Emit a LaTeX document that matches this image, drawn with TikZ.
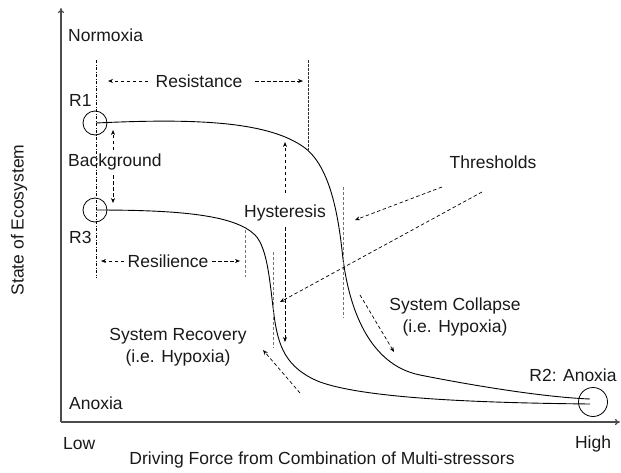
\documentclass[tikz,border=0pt]{standalone}
\usepackage{fontspec}
\setmainfont{Liberation Sans}
\usetikzlibrary{arrows.meta,calc}
\begin{document}
\begin{tikzpicture}[x=1pt,y=-1pt,
  lbl/.style={inner sep=0pt,font=\fontsize{17.5}{22}\selectfont,text=black!90},
  axisline/.style={draw=black!70,line width=1.1pt,-{To[length=5pt,width=6pt]}},
  curveline/.style={draw=black,line width=0.9pt},
  dasharrow/.style={draw=black,line width=0.7pt,dash pattern=on 3.5pt off 2.5pt,-{Stealth[length=5pt,width=4pt]}},
  dashdotline/.style={draw=black,line width=0.7pt,dash pattern=on 3pt off 1.5pt on 1pt off 1.5pt},
  vline/.style={draw=black!80,line width=0.8pt,dash pattern=on 2.5pt off 1.5pt},
  greyline/.style={draw=black!55,line width=0.9pt,dash pattern=on 3pt off 2pt},
  statecirc/.style={draw=black,line width=0.8pt,circle,inner sep=0pt}]
\useasboundingbox (0,0) rectangle (621,472);
% axes
\coordinate (O) at (61,422);
\coordinate (ytop) at (61,8);
\coordinate (xend) at (620,422);
\draw[axisline] (O) -- (ytop);
\draw[axisline] (O) -- (xend);
% circles
\node[statecirc,minimum size=24pt] (R1c) at (95,123) {};
\node[statecirc,minimum size=24pt] (R3c) at (95,210) {};
\node[statecirc,minimum size=29pt] (R2c) at (593,402) {};
% curves
\coordinate (c1s) at (96,123);
\coordinate (c2s) at (96,210);
\coordinate (e1) at (590,399);
\coordinate (e2) at (590,404);
\draw[curveline] (c1s) .. controls (200,118) and (270,122) .. (305,148)
  .. controls (330,167) and (338,215) .. (342,250)
  .. controls (348,310) and (370,365) .. (420,375)
  .. controls (465,384) and (540,397) .. (e1);
\draw[curveline] (c2s) .. controls (180,210) and (235,215) .. (255,235)
  .. controls (268,248) and (270,285) .. (274,315)
  .. controls (278,345) and (285,368) .. (320,382)
  .. controls (370,400) and (500,403) .. (e2);
% vertical guide lines
\coordinate (ddt) at (96,60); \coordinate (ddb) at (96,278);
\draw[dashdotline] (ddt) -- (ddb);
\coordinate (rst) at (308,60); \coordinate (rsb) at (308,150);
\draw[vline] (rst) -- (rsb);
\coordinate (rlt) at (245,230); \coordinate (rlb) at (245,277);
\draw[greyline] (rlt) -- (rlb);
\coordinate (t1t) at (343,187); \coordinate (t1b) at (343,318);
\draw[greyline] (t1t) -- (t1b);
\coordinate (t2t) at (273,252); \coordinate (t2b) at (273,348);
\draw[greyline] (t2t) -- (t2b);
% labels
\node[lbl,anchor=west] (norm) at (68,35) {Normoxia};
\node[lbl,anchor=west] (r1) at (69,100) {R1};
\node[lbl,anchor=west] (bg) at (68,162) {Background};
\node[lbl,anchor=west] (r3) at (69,237) {R3};
\node[lbl,anchor=west] (anox) at (69,403) {Anoxia};
\node[lbl] (res) at (199,81) {Resistance};
\node[lbl] (resil) at (168,261) {Resilience};
\node[lbl] (hyst) at (285,213) {Hysteresis};
\node[lbl] (thr) at (493,162) {Thresholds};
\node[lbl,align=center] (recov) at (178,347) {System Recovery\\(i.e. Hypoxia)};
\node[lbl,align=center] (coll) at (455,317) {System Collapse\\(i.e. Hypoxia)};
\node[lbl] (r2) at (573,375) {R2: Anoxia};
\node[lbl,anchor=west] (low) at (63,444) {Low};
\node[lbl] (high) at (593,444) {High};
\node[lbl] (xlab) at (322,460) {Driving Force from Combination of Multi-stressors};
\node[lbl,rotate=90] (ylab) at (19,220) {State of Ecosystem};
% arrows
\coordinate (a1s) at (148,81); \coordinate (a1e) at (108,81);
\coordinate (a2s) at (255,81); \coordinate (a2e) at (303,81);
\draw[dasharrow] (a1s) -- (a1e);
\draw[dasharrow] (a2s) -- (a2e);
\coordinate (b1s) at (124,261); \coordinate (b1e) at (101,261);
\coordinate (b2s) at (212,261); \coordinate (b2e) at (240,261);
\draw[dasharrow] (b1s) -- (b1e);
\draw[dasharrow] (b2s) -- (b2e);
\coordinate (g1s) at (113,150); \coordinate (g1e) at (113,130);
\coordinate (g2s) at (113,175); \coordinate (g2e) at (113,203);
\draw[dasharrow] (g1s) -- (g1e);
\draw[dasharrow] (g2s) -- (g2e);
\coordinate (h1s) at (285,193); \coordinate (h1e) at (285,142);
\coordinate (h2s) at (285,227); \coordinate (h2e) at (285,342);
\draw[dasharrow] (h1s) -- (h1e);
\draw[dasharrow] (h2s) -- (h2e);
\coordinate (th1s) at (442,187); \coordinate (th1e) at (355,220);
\coordinate (th2s) at (482,192); \coordinate (th2e) at (280,302);
\draw[dasharrow] (th1s) -- (th1e);
\draw[dasharrow] (th2s) -- (th2e);
\coordinate (rcs) at (300,393); \coordinate (rce) at (263,350);
\draw[dasharrow] (rcs) -- (rce);
\coordinate (cls) at (360,295); \coordinate (cle) at (394,352);
\draw[dasharrow] (cls) -- (cle);
\end{tikzpicture}
\end{document}
